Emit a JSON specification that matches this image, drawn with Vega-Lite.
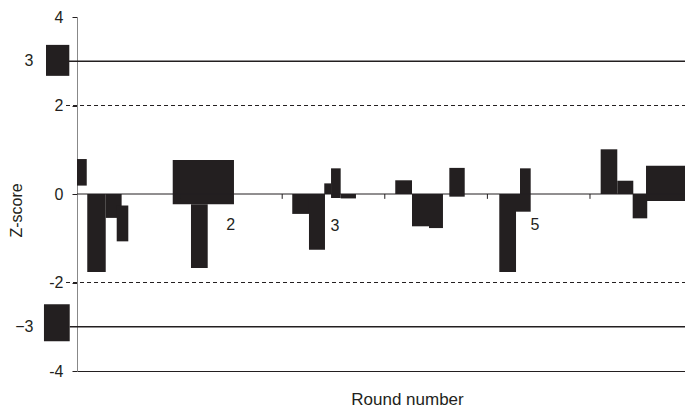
{
  "$schema": "https://vega.github.io/schema/vega-lite/v6.json",
  "width": 608,
  "height": 354,
  "autosize": {"type": "none"},
  "padding": {"left": 77, "top": 17, "right": 0, "bottom": 36},
  "background": "white",
  "config": {"view": {"stroke": null}, "font": "Liberation Sans"},
  "datasets": {
    "bars": [
      {"bar": "A", "x": 0.0, "x2": 0.095, "y": 0.19, "y2": 0.79},
      {"bar": "B", "x": 0.10, "x2": 0.28, "y": 0, "y2": -1.76},
      {"bar": "C", "x": 0.28, "x2": 0.435, "y": 0, "y2": -0.54},
      {"bar": "D", "x": 0.387, "x2": 0.50, "y": -0.26, "y2": -1.07},
      {"bar": "E", "x": 0.933, "x2": 1.53, "y": 0.77, "y2": -0.23},
      {"bar": "F", "x": 1.111, "x2": 1.274, "y": -0.23, "y2": -1.67},
      {"bar": "G", "x": 2.098, "x2": 2.261, "y": 0, "y2": -0.45},
      {"bar": "H", "x": 2.261, "x2": 2.417, "y": 0, "y2": -1.26},
      {"bar": "I", "x": 2.41, "x2": 2.476, "y": 0, "y2": 0.24},
      {"bar": "J", "x": 2.476, "x2": 2.57, "y": 0.58, "y2": -0.09},
      {"bar": "K", "x": 2.57, "x2": 2.719, "y": 0, "y2": -0.1},
      {"bar": "L", "x": 3.102, "x2": 3.265, "y": 0, "y2": 0.31},
      {"bar": "M", "x": 3.265, "x2": 3.431, "y": 0, "y2": -0.73},
      {"bar": "N", "x": 3.431, "x2": 3.567, "y": 0, "y2": -0.77},
      {"bar": "O", "x": 3.629, "x2": 3.779, "y": 0.59, "y2": -0.06},
      {"bar": "P", "x": 4.116, "x2": 4.279, "y": 0, "y2": -1.76},
      {"bar": "Q", "x": 4.279, "x2": 4.422, "y": 0, "y2": -0.4},
      {"bar": "R", "x": 4.318, "x2": 4.422, "y": 0, "y2": 0.58},
      {"bar": "S", "x": 5.104, "x2": 5.266, "y": 0, "y2": 1.01},
      {"bar": "T", "x": 5.266, "x2": 5.422, "y": 0, "y2": 0.3},
      {"bar": "U", "x": 5.416, "x2": 5.558, "y": 0, "y2": -0.55},
      {"bar": "V", "x": 5.546, "x2": 5.926, "y": 0.64, "y2": -0.16},
      {"bar": "upper", "x": -0.302, "x2": -0.075, "y": 2.67, "y2": 3.37},
      {"bar": "lower", "x": -0.322, "x2": -0.071, "y": -2.49, "y2": -3.33}
    ],
    "solid": [
      {"y": 3, "x": -0.078, "x2": 5.926},
      {"y": -3, "x": -0.071, "x2": 5.926}
    ],
    "dashed": [
      {"y": 2, "x": -0.107, "x2": 5.926},
      {"y": -2, "x": -0.107, "x2": 5.926}
    ],
    "zero": [
      {"y": 0, "x": 0, "x2": 5.926}
    ],
    "roundticks": [
      {"x": 1, "y": 0, "y2": -0.11},
      {"x": 2, "y": 0, "y2": -0.11},
      {"x": 3, "y": 0, "y2": -0.11},
      {"x": 4, "y": 0, "y2": -0.11},
      {"x": 5, "y": 0, "y2": -0.11}
    ],
    "roundlabels": [
      {"x": 1.498, "y": -0.7, "label": "2"},
      {"x": 2.515, "y": -0.72, "label": "3"},
      {"x": 4.464, "y": -0.7, "label": "5"}
    ],
    "limitlabels": [
      {"x": -0.424, "y": 3, "label": "3"},
      {"x": -0.424, "y": -3, "label": "−3"}
    ]
  },
  "layer": [
    {
      "data": {"name": "bars"},
      "mark": {"type": "rect", "color": "#231f20"},
      "encoding": {
        "x": {
          "field": "x", "type": "quantitative",
          "scale": {"domain": [0, 5.926], "nice": false, "zero": false},
          "axis": {
            "title": "Round number", "labels": false, "ticks": false, "grid": false,
            "domainColor": "#231f20", "domainWidth": 1,
            "titleFont": "Liberation Sans", "titleFontSize": 17, "titleFontWeight": "normal",
            "titleColor": "#231f20", "titleX": 330, "titleY": 33, "titleBaseline": "alphabetic", "titleAlign": "center"
          }
        },
        "x2": {"field": "x2"},
        "y": {
          "field": "y", "type": "quantitative",
          "scale": {"domain": [-4, 4], "nice": false, "zero": false},
          "axis": {
            "title": "Z-score", "values": [4, 2, 0, -2, -4],
            "labelExpr": "datum.value < 0 ? '-' + (-datum.value) : datum.label",
            "grid": false, "domainColor": "#888888", "domainWidth": 1,
            "tickColor": "#231f20", "tickSize": 5, "labelPadding": 9,
            "labelFont": "Liberation Sans", "labelFontSize": 16, "labelColor": "#231f20",
            "titleFont": "Liberation Sans", "titleFontSize": 16, "titleFontWeight": "normal",
            "titleColor": "#231f20", "titleX": -61, "titleY": 193, "titleBaseline": "middle", "titleAlign": "center"
          }
        },
        "y2": {"field": "y2"}
      }
    },
    {
      "data": {"name": "solid"},
      "mark": {"type": "rule", "color": "#231f20", "strokeWidth": 1.6},
      "encoding": {
        "x": {"field": "x", "type": "quantitative"},
        "x2": {"field": "x2"},
        "y": {"field": "y", "type": "quantitative"}
      }
    },
    {
      "data": {"name": "dashed"},
      "mark": {"type": "rule", "color": "#231f20", "strokeWidth": 1, "strokeDash": [4, 3]},
      "encoding": {
        "x": {"field": "x", "type": "quantitative"},
        "x2": {"field": "x2"},
        "y": {"field": "y", "type": "quantitative"}
      }
    },
    {
      "data": {"name": "zero"},
      "mark": {"type": "rule", "color": "#231f20", "strokeWidth": 1},
      "encoding": {
        "x": {"field": "x", "type": "quantitative"},
        "x2": {"field": "x2"},
        "y": {"field": "y", "type": "quantitative"}
      }
    },
    {
      "data": {"name": "roundticks"},
      "mark": {"type": "rule", "color": "#231f20", "strokeWidth": 1},
      "encoding": {
        "x": {"field": "x", "type": "quantitative"},
        "y": {"field": "y", "type": "quantitative"},
        "y2": {"field": "y2"}
      }
    },
    {
      "data": {"name": "roundlabels"},
      "mark": {"type": "text", "color": "#231f20", "font": "Liberation Sans", "fontSize": 16, "baseline": "middle", "align": "center"},
      "encoding": {
        "x": {"field": "x", "type": "quantitative"},
        "y": {"field": "y", "type": "quantitative"},
        "text": {"field": "label"}
      }
    },
    {
      "data": {"name": "limitlabels"},
      "mark": {"type": "text", "color": "#231f20", "font": "Liberation Sans", "fontSize": 16, "baseline": "middle", "align": "right"},
      "encoding": {
        "x": {"field": "x", "type": "quantitative"},
        "y": {"field": "y", "type": "quantitative"},
        "text": {"field": "label"}
      }
    }
  ]
}
